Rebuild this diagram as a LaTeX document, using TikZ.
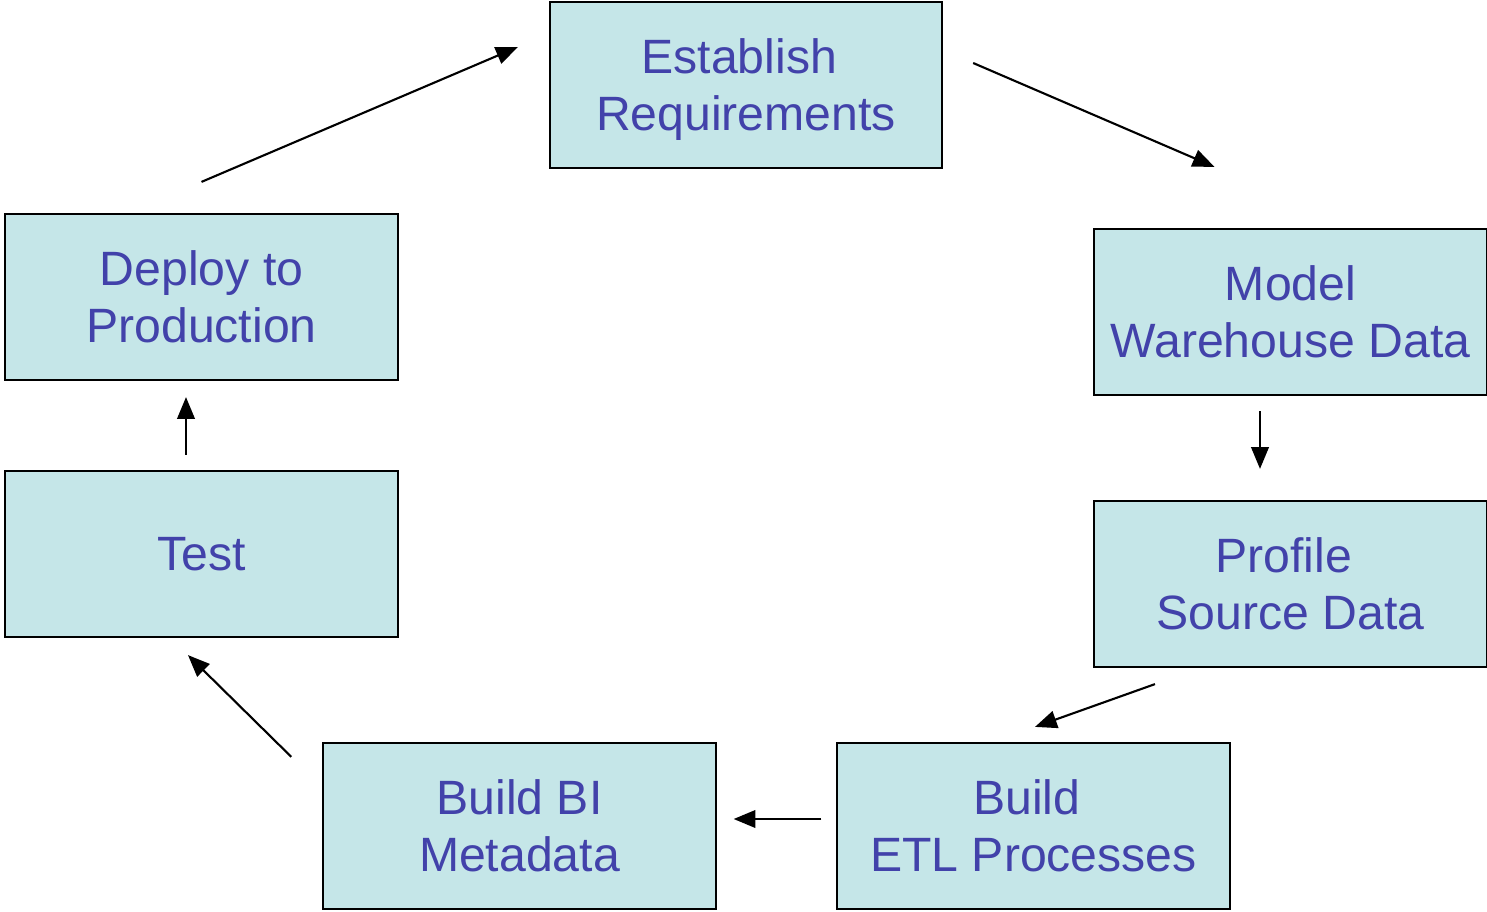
\documentclass[tikz,border=0pt]{standalone}
\usepackage{fontspec}
\setmainfont{Liberation Sans}
\usetikzlibrary{arrows.meta,calc}
\definecolor{stagefill}{RGB}{197,230,232}
\definecolor{stagetext}{RGB}{66,66,170}
\begin{document}
\begin{tikzpicture}[x=0.01cm,y=0.01cm,
  stage/.style={draw=black,line width=0.6pt,fill=stagefill,text=stagetext,
    minimum width=3.92cm,minimum height=1.66cm,inner sep=0pt,align=center,
    text depth=0pt,font=\fontsize{13.7}{16.2}\selectfont},
  flow/.style={line width=0.6pt,-{Triangle[length=6.2pt,width=5pt]}}]
\useasboundingbox (0,0) rectangle (1487,911);

\node[stage] (req) at (746,826) {Establish\hphantom{\ }\\Requirements};
\node[stage] (model) at (1290.5,599) {Model\\Warehouse Data};
\node[stage] (profile) at (1290.5,327) {Profile\hphantom{\ }\\Source Data};
\node[stage] (etl) at (1033.5,85) {Build\hphantom{\ }\\ETL Processes};
\node[stage] (bi) at (519.5,85) {Build BI\\Metadata};
\node[stage] (test) at (201.5,357) {Test};
\node[stage] (deploy) at (201.5,614) {Deploy to\\Production};

\draw[flow] ($(deploy.north)+(0,31)$) -- ($(req.west)+(-31,38)$);
\draw[flow] ($(req.east)+(30,22)$) -- ($(model.north)+(-76,61)$);
\draw[flow] ($(model.south)+(-30.5,-15)$) -- ($(profile.north)+(-30.5,31)$);
\draw[flow] ($(profile.south)+(-135.5,-16)$) -- ($(etl.north)+(1.5,15)$);
\draw[flow] ($(etl.west)+(-15,7)$) -- ($(bi.east)+(17,7)$);
\draw[flow] ($(bi.north west)+(-31,-15)$) -- ($(test.south)+(-13.5,-17)$);
\draw[flow] ($(test.north)+(-15.5,15)$) -- ($(deploy.south)+(-15.5,-16)$);

\end{tikzpicture}
\end{document}
